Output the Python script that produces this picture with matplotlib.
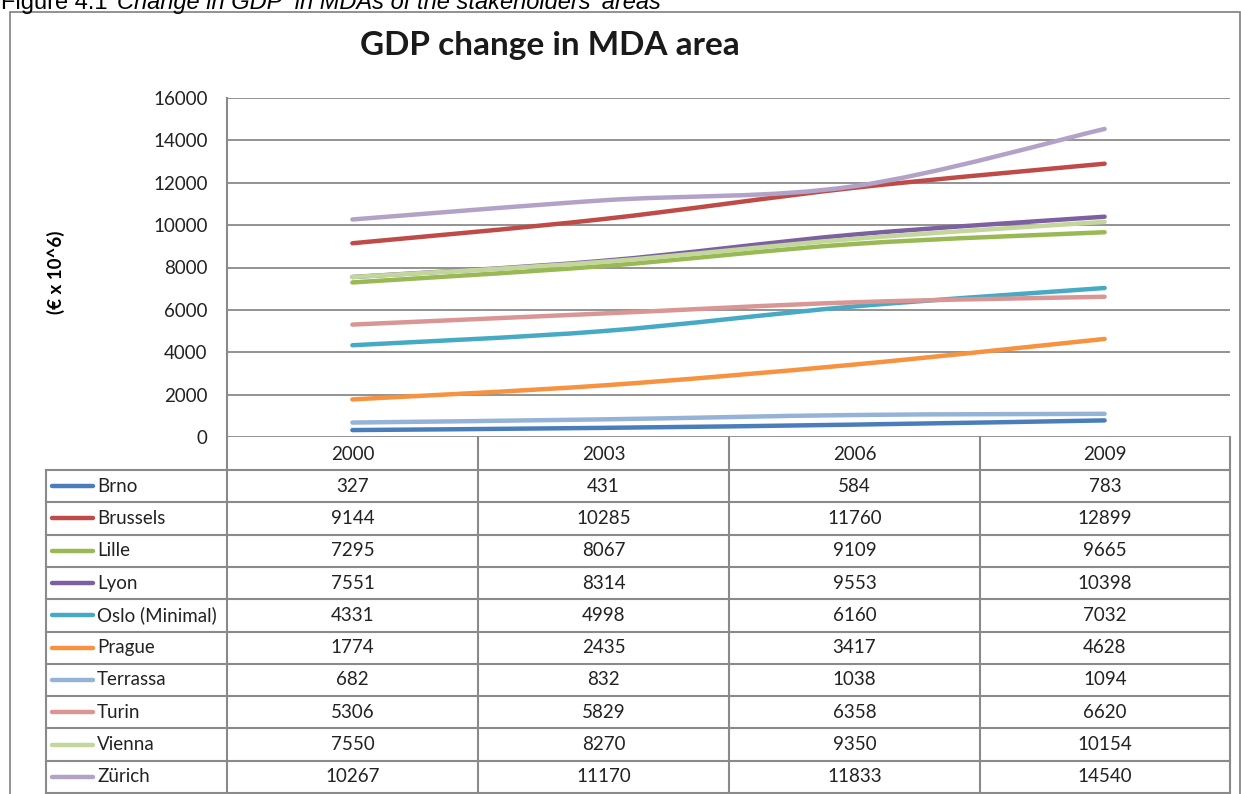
import numpy as np
import matplotlib.pyplot as plt
from matplotlib.path import Path
from matplotlib.patches import PathPatch, Rectangle

years = ["2000", "2003", "2006", "2009"]
cities = ["Brno", "Brussels", "Lille", "Lyon", "Oslo (Minimal)", "Prague",
          "Terrassa", "Turin", "Vienna", "Zürich"]
brno = [327, 431, 584, 783]
brussels = [9144, 10285, 11760, 12899]
lille = [7295, 8067, 9109, 9665]
lyon = [7551, 8314, 9553, 10398]
oslo = [4331, 4998, 6160, 7032]
prague = [1774, 2435, 3417, 4628]
terrassa = [682, 832, 1038, 1094]
turin = [5306, 5829, 6358, 6620]
vienna = [7550, 8270, 9350, 10154]
zurich = [10267, 11170, 11833, 14540]
series = [brno, brussels, lille, lyon, oslo, prague, terrassa, turin, vienna, zurich]
colors = ["#4A7EBB", "#BE4B48", "#98B954", "#7D60A0", "#46AAC5",
          "#F69240", "#95B3D7", "#D99694", "#C3D69B", "#B3A2C7"]
yticks = [0, 2000, 4000, 6000, 8000, 10000, 12000, 14000, 16000]

W, H = 1241, 794
fig = plt.figure(figsize=(W / 100, H / 100), dpi=100)
body = ["Lato", "DejaVu Sans"]
grid_c = "#8a8a8a"
fs = 13.5


def fx(px):
    return px / W


def fy(py):
    return 1 - py / H


# caption, cut off at the top of the page like the source scan
cap1 = fig.text(fx(1), fy(9), "Figure 4.1 ", family="Liberation Sans", fontsize=17,
                va="baseline")
renderer = fig.canvas.get_renderer()
bb = cap1.get_window_extent(renderer)
fig.text(bb.x1 / W + fx(3), fy(9), "Change in GDP  in MDAs of the stakeholders' areas",
         family="Liberation Sans", fontsize=17, style="italic", va="baseline")

# outer chart frame
fig.patches.append(Rectangle((fx(10), fy(800)), fx(1240) - fx(10), fy(12) - fy(800),
                             transform=fig.transFigure, fill=False, ec="#7f7f7f", lw=1.2))

fig.text(fx(550), fy(46), "GDP change in MDA area", family=body, fontsize=24,
         fontweight="bold", ha="center", va="center", color="#1a1a1a")

L, R, T, B = 227, 1230, 98, 437
ax = fig.add_axes([fx(L), fy(B), fx(R) - fx(L), fy(T) - fy(B)])
ax.set_xlim(0, 4)
ax.set_ylim(0, 16000)
ax.set_yticks(yticks)
ax.set_yticklabels([str(v) for v in yticks], family=body, fontsize=fs, color="#222222")
ax.tick_params(axis="y", length=0, pad=14)
ax.set_xticks([])
for s in ["top", "right", "bottom"]:
    ax.spines[s].set_visible(False)
ax.spines["left"].set_color(grid_c)
ax.spines["left"].set_linewidth(1.5)
ax.grid(axis="y", color=grid_c, lw=1.3)
ax.set_axisbelow(True)


def smooth_path(xs, ys, t=1 / 6):
    # Catmull-Rom style cubic bezier like Excel smoothed lines
    pts = np.column_stack([xs, ys]).astype(float)
    verts = [pts[0]]
    codes = [Path.MOVETO]
    n = len(pts)
    for i in range(n - 1):
        p0 = pts[max(i - 1, 0)]
        p1 = pts[i]
        p2 = pts[i + 1]
        p3 = pts[min(i + 2, n - 1)]
        c1 = p1 + (p2 - p0) * t
        c2 = p2 - (p3 - p1) * t
        verts += [c1, c2, p2]
        codes += [Path.CURVE4] * 3
    return Path(verts, codes)


xpos = np.arange(len(years)) + 0.5
for vals, c in zip(series, colors):
    ax.add_patch(PathPatch(smooth_path(xpos, vals), fill=False, ec=c, lw=3.2,
                           capstyle="round", zorder=3))

fig.text(fx(56), fy(272), "(€ x 10^6)", family=body, fontsize=13.5, fontweight="bold",
         rotation=90, ha="center", va="center")

# data table
tab = fig.add_axes([0, 0, 1, 1], facecolor="none")
tab.set_xlim(0, W)
tab.set_ylim(H, 0)
tab.axis("off")
cols = [L, 478, 729, 980, R]
head_b = 470
row_h = (793 - head_b) / len(cities)
line_kw = dict(color=grid_c, lw=1.5)
for cx in cols:
    tab.plot([cx, cx], [B, 793], **line_kw)
tab.plot([46, 46], [head_b, 793], **line_kw)
for k in range(len(cities) + 1):
    yy = head_b + k * row_h
    tab.plot([46, R], [yy, yy], **line_kw)
for j, yr in enumerate(years):
    tab.text((cols[j] + cols[j + 1]) / 2, (B + head_b) / 2 + 1, yr, family=body,
             fontsize=fs, ha="center", va="center", color="#222222")
for i, (name, vals, c) in enumerate(zip(cities, series, colors)):
    yc = head_b + (i + 0.5) * row_h
    tab.plot([52, 93], [yc, yc], color=c, lw=3.2, solid_capstyle="round")
    tab.text(97, yc, name, family=body, fontsize=fs, ha="left", va="center", color="#222222")
    for j, v in enumerate(vals):
        tab.text((cols[j] + cols[j + 1]) / 2, yc, str(v), family=body, fontsize=fs,
                 ha="center", va="center", color="#222222")

fig.savefig("out.png", dpi=100)
